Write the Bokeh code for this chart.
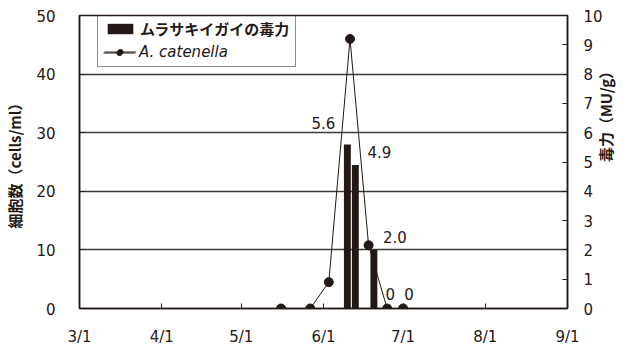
import math
from datetime import datetime
from bokeh.plotting import figure
from bokeh.models import (Range1d, LinearAxis, FixedTicker, Legend, LegendItem,
                          ColumnDataSource)
from bokeh.core.properties import value
from bokeh.embed import file_html
from bokeh.resources import INLINE

YEAR = 2011

# A. catenella cell density (cells/ml) - left axis
cell_dates = ["05-16", "05-27", "06-03", "06-11", "06-18", "06-25", "07-01"]
cell_counts = [0, 0, 4.5, 46.0, 10.8, 0, 0]

# Mussel (ムラサキイガイ) toxicity (MU/g) - right axis
tox_dates = ["06-10", "06-13", "06-20", "06-25", "07-01"]
tox_values = [5.6, 4.9, 2.0, 0, 0]
tox_labels = ["5.6", "4.9", "2.0", "0", "0"]

# axes
x_tick_dates = ["03-01", "04-01", "05-01", "06-01", "07-01", "08-01", "09-01"]
x_tick_labels = ["3/1", "4/1", "5/1", "6/1", "7/1", "8/1", "9/1"]
left_ticks = [0, 10, 20, 30, 40, 50]
right_ticks = [0, 1, 2, 3, 4, 5, 6, 7, 8, 9, 10]
grid_ticks = [10, 20, 30, 40]
left_title = "細胞数（cells/ml）"
right_title = "毒力（MU/g）"

# label placement (screen px offsets) - styling only
label_dx = [-24, 24, 21, 3, 6]
label_dy = [-21, -13, -13, -15, -15]

EPOCH = datetime(1970, 1, 1)
DAY_MS = 86400000.0


def ms(md):
    m, d = (int(v) for v in md.split("-"))
    return (datetime(YEAR, m, d) - EPOCH).total_seconds() * 1000.0


INK = "#231815"
NUM_FONT = "DejaVu Sans"
JP_FONT = "Noto Sans CJK JP"

x_ticks = [ms(d) for d in x_tick_dates]

p = figure(width=629, height=348, output_backend="svg", toolbar_location=None,
           x_range=Range1d(x_ticks[0], x_ticks[-1]),
           y_range=Range1d(left_ticks[0], left_ticks[-1]),
           min_border_left=79, min_border_right=62, min_border_top=15,
           min_border_bottom=38)
p.extra_y_ranges = {"tox": Range1d(right_ticks[0], right_ticks[-1])}

p.background_fill_color = "white"
p.border_fill_color = "white"
p.outline_line_color = INK
p.outline_line_width = 1.5

# grid
p.xgrid.visible = False
p.ygrid.ticker = FixedTicker(ticks=grid_ticks)
p.ygrid.grid_line_color = "#3c3836"
p.ygrid.grid_line_width = 1.5


def style_axis(ax, standoff):
    ax.major_tick_in = 5
    ax.major_tick_out = 0
    ax.minor_tick_line_color = None
    ax.axis_line_color = INK
    ax.axis_line_width = 1.5
    ax.major_tick_line_color = INK
    ax.major_label_standoff = standoff
    ax.major_label_text_font = NUM_FONT
    ax.major_label_text_font_size = "15px"
    ax.major_label_text_color = INK


def style_title(ax, text, standoff):
    ax.axis_label = text
    ax.axis_label_text_font = JP_FONT
    ax.axis_label_text_font_size = "15px"
    ax.axis_label_text_font_style = "bold"
    ax.axis_label_text_color = INK
    ax.axis_label_standoff = standoff


# bottom axis
xa = p.xaxis[0]
xa.ticker = FixedTicker(ticks=x_ticks)
xa.major_label_overrides = {t: lab for t, lab in zip(x_ticks, x_tick_labels)}
style_axis(xa, 19)

# left axis
ya = p.yaxis[0]
ya.ticker = FixedTicker(ticks=left_ticks)
style_axis(ya, 24)
style_title(ya, left_title, 8)

# right axis
ra = LinearAxis(y_range_name="tox", ticker=FixedTicker(ticks=right_ticks))
style_axis(ra, 16)
style_title(ra, right_title, 0)
ra.axis_label_orientation = math.pi / 2
p.add_layout(ra, "right")

# data sources
cell_src = ColumnDataSource(dict(x=[ms(d) for d in cell_dates], y=cell_counts))
tox_src = ColumnDataSource(dict(x=[ms(d) for d in tox_dates], top=tox_values,
                                label=tox_labels, dx=label_dx, dy=label_dy))

bars = p.vbar(x="x", top="top", width=2.6 * DAY_MS, source=tox_src,
              y_range_name="tox", fill_color=INK, line_color=None)
line = p.line(x="x", y="y", source=cell_src, line_color=INK, line_width=1)
pts = p.scatter(x="x", y="y", source=cell_src, size=9, fill_color=INK,
                line_color=INK)

p.text(x="x", y="top", text="label", x_offset="dx", y_offset="dy",
       source=tox_src, y_range_name="tox", text_font=value(NUM_FONT),
       text_font_size="15px", text_align="center", text_baseline="middle",
       text_color=INK)

# legend (two overlaid legends so that the species name can be italic)
common = dict(location=(18, 241), glyph_width=32, glyph_height=13,
              label_standoff=4, padding=6, spacing=4, margin=0,
              label_text_font_size="15px", label_text_color=INK,
              label_height=17)
leg1 = Legend(items=[LegendItem(label="ムラサキイガイの毒力", renderers=[bars]),
                     LegendItem(label=" ", renderers=[line, pts])],
              label_text_font=JP_FONT, label_text_font_style="bold",
              border_line_color=INK, border_line_width=1.5,
              background_fill_alpha=0, **common)
leg2 = Legend(items=[LegendItem(label="A. catenella", renderers=[line, pts])],
              label_text_font=NUM_FONT, label_text_font_style="italic",
              border_line_alpha=0, background_fill_alpha=0, **common)
p.add_layout(leg1)
p.add_layout(leg2)

open("out.html", "w").write(file_html(p, INLINE))
